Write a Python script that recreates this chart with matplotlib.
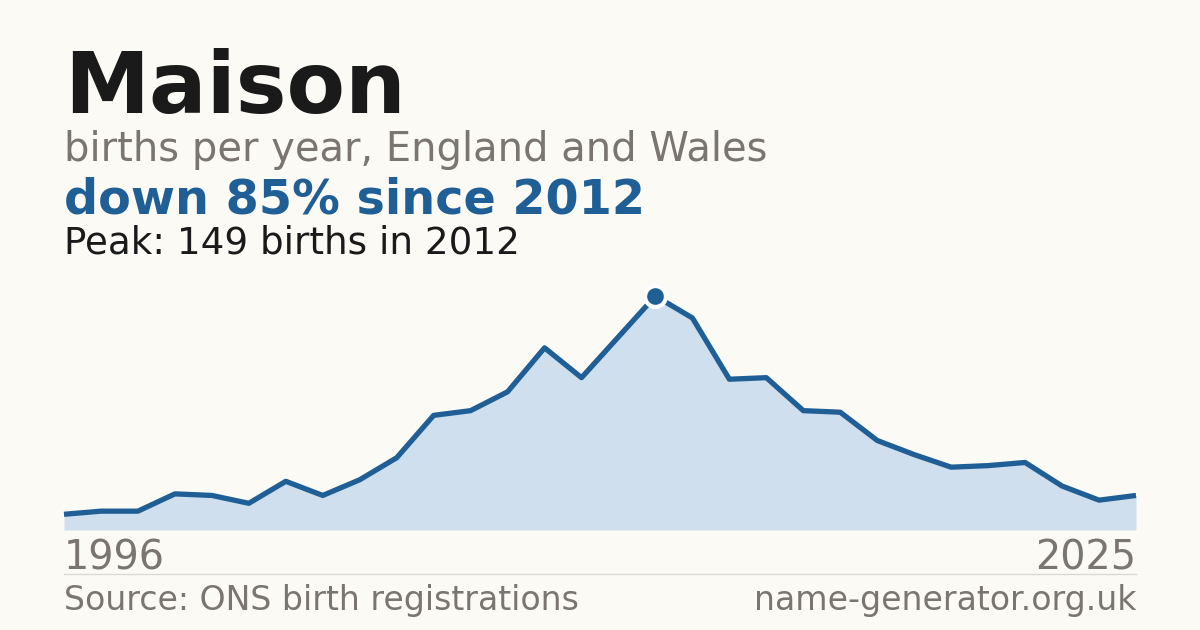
import numpy as np
import matplotlib.pyplot as plt

plt.rcParams['font.family'] = ['DejaVu Sans']

years = list(range(1996, 2026))
births = [10, 12, 12, 23, 22, 17, 31, 22, 32, 46, 73, 76, 88, 116, 97, 123,
          149, 135, 96, 97, 76, 75, 57, 48, 40, 41, 43, 28, 19, 22]

name = "Maison"
subtitle = "births per year, England and Wales"
headline = "down 85% since 2012"
peak_note = "Peak: 149 births in 2012"
source = "Source: ONS birth registrations"
site = "name-generator.org.uk"

bg = "#fbfaf5"
blue = "#1f5f96"
fill = "#cfdfee"
grey = "#7a7570"
dark = "#1a1a1a"

W, H = 1200, 630
fig = plt.figure(figsize=(W / 100, H / 100), dpi=100, facecolor=bg)

def px(x, y):
    return x / W, 1 - y / H

fig.text(*px(64, 113), name, fontsize=61.5, fontweight="bold", color=dark, va="baseline")
fig.text(*px(64, 161), subtitle, fontsize=28.8, color=grey, va="baseline")
fig.text(*px(64, 214), headline, fontsize=34.4, fontweight="bold", color=blue, va="baseline")
fig.text(*px(64, 254), peak_note, fontsize=26.8, color=dark, va="baseline")

# plot area: 1996 at x=64, 2025 at x=1136, zero at y=530, peak at y=296
ax = fig.add_axes([64 / W, 1 - 530 / H, (1136 - 64) / W, (530 - 296) / H])
ax.set_facecolor(bg)
ax.fill_between(years, births, 0, color=fill, lw=0)
ax.plot(years, births, color=blue, lw=3.8, solid_joinstyle="round",
        solid_capstyle="butt", clip_on=False)
pk = int(np.argmax(births))
ax.plot(years[pk], births[pk], "o", ms=15, color=blue, mec="white", mew=3, clip_on=False, zorder=5)
ax.set_xlim(years[0], years[-1])
ax.set_ylim(0, max(births))
ax.axis("off")

fig.text(*px(64, 569), str(years[0]), fontsize=28.6, color=grey, va="baseline")
fig.text(*px(1136, 569), str(years[-1]), fontsize=28.6, color=grey, va="baseline", ha="right")

fig.add_artist(plt.Line2D([64 / W, 1136 / W], [1 - 574 / H] * 2, color="#dcd9d2", lw=1))

fig.text(*px(64, 610), source, fontsize=23.9, color=grey, va="baseline")
fig.text(*px(1136, 610), site, fontsize=23.9, color=grey, va="baseline", ha="right")

fig.savefig("out.png", dpi=100, facecolor=bg)
